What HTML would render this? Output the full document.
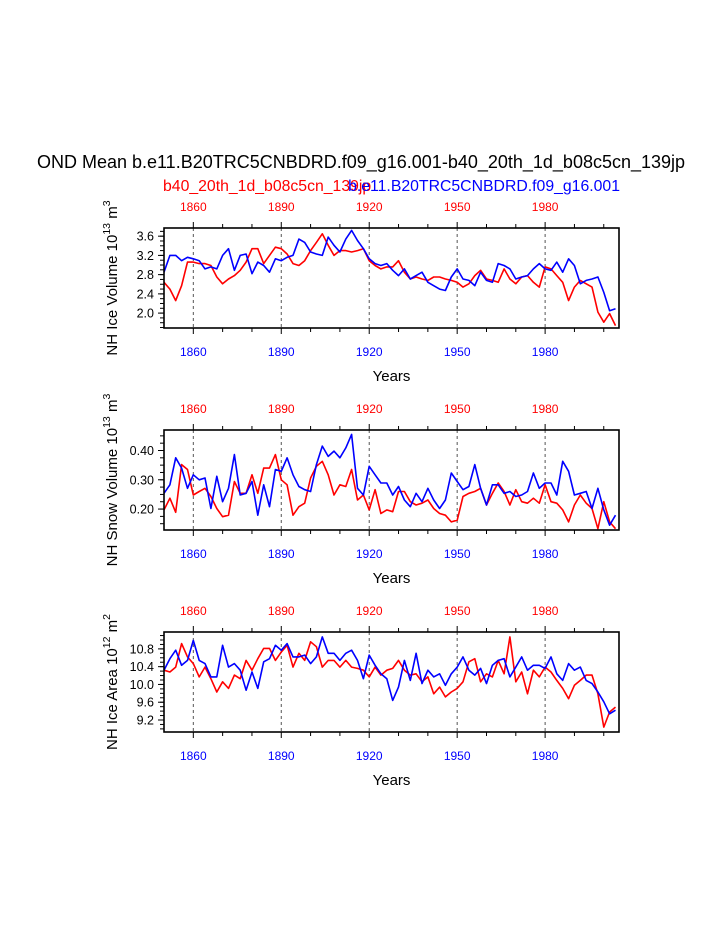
<!DOCTYPE html>
<html><head><meta charset="utf-8"><style>
html,body{margin:0;padding:0;background:#fff;}
svg{display:block;font-family:"Liberation Sans",Arial,sans-serif;}
</style></head><body>
<svg id="chart" width="723" height="935" viewBox="0 0 723 935" xmlns="http://www.w3.org/2000/svg">
<rect width="723" height="935" fill="#fff"/>
<text x="361" y="168" font-size="18" text-anchor="middle" fill="#000">OND Mean b.e11.B20TRC5CNBDRD.f09_g16.001-b40_20th_1d_b08c5cn_139jp</text>
<text x="163" y="191" font-size="15.8" fill="#ff0000">b40_20th_1d_b08c5cn_139jp</text>
<text x="620" y="191" font-size="15.8" text-anchor="end" fill="#0000ff">b.e11.B20TRC5CNBDRD.f09_g16.001</text>
</svg>
<script>
const years = [];
for (let y = 1850; y <= 2004; y += 2) years.push(y);

const iceVolBlue = [2.85,3.20,3.20,3.09,3.16,3.13,3.09,2.92,2.96,2.92,3.20,3.34,2.89,3.20,3.23,2.82,3.06,2.99,2.85,3.13,3.09,3.16,3.20,3.54,3.47,3.27,3.23,3.20,3.58,3.41,3.27,3.54,3.72,3.51,3.34,3.13,3.03,2.99,3.03,2.89,2.78,
 2.92,2.71,2.78,2.85,2.64,2.57,2.50,2.47,2.75,2.92,2.71,2.68,2.57,2.85,2.68,2.64,3.03,2.99,2.92,2.71,2.75,2.78,2.92,3.03,2.92,2.89,3.06,2.85,3.13,2.99,2.61,2.68,2.71,2.75,2.43,2.05,2.09];
const iceVolRed = [2.64,2.50,2.26,2.57,3.06,3.06,3.03,3.03,2.99,2.75,2.61,2.71,2.78,2.89,3.06,3.34,3.34,3.03,3.20,3.37,3.34,3.23,3.03,2.99,3.09,3.30,3.47,3.65,3.41,3.20,3.30,3.30,3.27,3.30,3.34,3.09,2.99,2.92,2.96,2.96,3.09,
 2.85,2.71,2.75,2.71,2.68,2.75,2.75,2.71,2.68,2.64,2.54,2.61,2.78,2.89,2.71,2.68,2.64,2.92,2.71,2.61,2.75,2.78,2.64,2.54,2.96,2.92,2.78,2.64,2.26,2.54,2.68,2.61,2.54,2.02,1.81,1.99,1.74];
const snowBlue = [.254,.283,.375,.340,.271,.317,.300,.306,.202,.312,.225,.271,.386,.248,.254,.294,.179,.283,.208,.335,.329,.375,.317,.277,.266,.260,.352,.415,.380,.398,.375,.409,.455,.271,.248,.346,.317,.289,.289,.248,.277,
 .231,.208,.254,.225,.271,.231,.202,.231,.323,.294,.266,.277,.352,.271,.214,.283,.283,.254,.260,.243,.248,.260,.323,.271,.289,.289,.248,.363,.329,.248,.254,.260,.202,.271,.197,.145,.179];
const snowRed = [.197,.237,.189,.352,.335,.248,.260,.271,.243,.202,.174,.179,.294,.254,.254,.317,.254,.340,.340,.386,.300,.283,.179,.208,.220,.306,.346,.363,.317,.248,.283,.277,.335,.231,.248,.197,.266,.185,.197,.191,.260,
 .260,.225,.214,.220,.231,.202,.185,.179,.156,.162,.243,.254,.260,.271,.214,.254,.289,.260,.214,.266,.225,.220,.237,.220,.283,.225,.220,.197,.156,.214,.248,.220,.202,.133,.225,.156,.133];
const areaBlue = [10.32,10.58,10.77,10.43,10.54,10.99,10.54,10.47,10.17,10.17,10.88,10.39,10.47,10.32,9.87,10.28,9.91,10.51,10.58,10.88,10.77,10.92,10.62,10.62,10.66,10.47,10.62,11.07,10.70,10.70,10.54,10.70,10.77,10.54,10.13,10.66,10.43,10.24,10.13,9.64,9.94,
 10.54,10.09,10.70,10.02,10.32,10.17,10.24,9.98,10.24,10.39,10.62,10.32,10.21,10.36,10.02,10.43,10.54,10.58,10.17,10.39,10.62,10.32,10.43,10.43,10.36,10.62,10.24,10.09,10.47,10.32,10.39,10.09,10.02,9.83,9.61,9.34,9.42];
const areaRed = [10.32,10.28,10.39,10.92,10.62,10.47,10.17,10.39,10.13,9.83,10.06,9.91,10.21,10.13,10.54,10.32,10.58,10.81,10.81,10.54,10.73,10.88,10.39,10.70,10.54,10.96,10.85,10.39,10.54,10.54,10.39,10.54,10.39,10.36,10.32,10.17,10.39,10.21,10.32,10.36,10.54,
 10.32,10.21,10.24,10.06,10.17,9.79,9.94,9.72,9.83,9.91,10.06,10.51,10.58,10.06,10.24,10.17,10.54,10.24,11.07,10.06,10.28,9.79,10.32,10.17,10.39,10.28,10.09,9.91,9.68,9.98,10.09,10.21,10.21,9.79,9.04,9.38,9.49];

const xTickYears = [1860,1890,1920,1950,1980];
const iceVolTicks = ["2.0","2.4","2.8","3.2","3.6"];
const snowTicks = ["0.20","0.30","0.40"];
const areaTicks = ["9.2","9.6","10.0","10.4","10.8"];

const NS = "http://www.w3.org/2000/svg";
const svg = document.getElementById("chart");
function mk(tag, attrs, parent) {
  const e = document.createElementNS(NS, tag);
  for (const k in attrs) e.setAttribute(k, attrs[k]);
  (parent || svg).appendChild(e);
  return e;
}
const X0 = 164, X1 = 619, YR0 = 1850, YR1 = 2005.2;
function xScale(yr) { return X0 + (yr - YR0) / (YR1 - YR0) * (X1 - X0); }

function panel(cfg) {
  const g = mk("g", {});
  
  
  const top = cfg.top, bot = cfg.top + 100;
  const yScale = v => bot - (v - cfg.ymin) / (cfg.ymax - cfg.ymin) * (bot - top);
  xTickYears.forEach(yr => {
    const l = mk("line", {x1: xScale(yr), x2: xScale(yr), y1: top, y2: bot, stroke: "#555", "stroke-width": 1, "stroke-dasharray": "3,3"}, g);
    
    
  });
  for (let yr = 1860; yr <= 2000; yr += 10) {
    const major = (yr - 1860) % 30 === 0;
    const len = major ? 6 : 4;
    mk("line", {x1: xScale(yr), x2: xScale(yr), y1: top, y2: top - len, stroke: "#000", "stroke-width": 1}, g);
    mk("line", {x1: xScale(yr), x2: xScale(yr), y1: bot, y2: bot + len, stroke: "#000", "stroke-width": 1}, g);
  }
  xTickYears.forEach(yr => {
    const t1 = mk("text", {x: xScale(yr), y: top - 17, "font-size": 12, "text-anchor": "middle", fill: "#ff0000"}, g);
    t1.textContent = yr;
    
    
    const t2 = mk("text", {x: xScale(yr), y: bot + 28, "font-size": 12, "text-anchor": "middle", fill: "#0000ff"}, g);
    t2.textContent = yr;
    
    
  });
  for (let v = cfg.minorStart; v <= cfg.ymax + 1e-9; v += cfg.minorStep) {
    if (v < cfg.ymin) continue;
    mk("line", {x1: X0, x2: X0 - 4, y1: yScale(v), y2: yScale(v), stroke: "#000", "stroke-width": 1}, g);
  }
  cfg.ticks.forEach(lbl => {
    const v = parseFloat(lbl);
    mk("line", {x1: X0, x2: X0 - 6, y1: yScale(v), y2: yScale(v), stroke: "#000", "stroke-width": 1}, g);
    const t = mk("text", {x: X0 - 10, y: yScale(v) + 4.5, "font-size": 12.5, "text-anchor": "end", fill: "#000"}, g);
    t.textContent = lbl;
    
    
  });
  [[cfg.red, "#ff0000", "red-series-line"], [cfg.blue, "#0000ff", "blue-series-line"]].forEach(([arr, col, nm]) => {
    const pts = arr.map((v, i) => xScale(years[i]).toFixed(1) + "," + yScale(v).toFixed(1)).join(" ");
    const p = mk("polyline", {points: pts, fill: "none", stroke: col, "stroke-width": 1.6, "stroke-linejoin": "round"}, g);
    
    
  });
  const fr = mk("rect", {x: X0, y: top, width: X1 - X0, height: 100, fill: "none", stroke: "#000", "stroke-width": 1.6}, g);
  
  
  const xt = mk("text", {x: (X0 + X1) / 2, y: bot + 53, "font-size": 15, "text-anchor": "middle", fill: "#000"}, g);
  xt.textContent = "Years";
  
  
  const cy = top + 50, cx = 117;
  const yt = mk("text", {x: cx, y: cy, "font-size": 15, "text-anchor": "middle", fill: "#000", transform: "rotate(-90 " + cx + " " + cy + ")"}, g);
  
  
  yt.innerHTML = cfg.ylabel + ' 10<tspan dy="-7" font-size="10.5">' + cfg.exp + '</tspan><tspan dy="7"> m</tspan><tspan dy="-7" font-size="10.5">' + cfg.uexp + '</tspan>';
}

panel({name: "ice-volume-panel", top: 228, ymin: 1.69, ymax: 3.77, ticks: iceVolTicks, minorStart: 1.7, minorStep: 0.1, red: iceVolRed, blue: iceVolBlue, ylabel: "NH Ice Volume", exp: "13", uexp: "3"});
panel({name: "snow-volume-panel", top: 430, ymin: 0.1285, ymax: 0.470, ticks: snowTicks, minorStart: 0.15, minorStep: 0.025, red: snowRed, blue: snowBlue, ylabel: "NH Snow Volume", exp: "13", uexp: "3"});
panel({name: "ice-area-panel", top: 632, ymin: 8.93, ymax: 11.18, ticks: areaTicks, minorStart: 9.0, minorStep: 0.1, red: areaRed, blue: areaBlue, ylabel: "NH Ice Area", exp: "12", uexp: "2"});
</script>
</body></html>
